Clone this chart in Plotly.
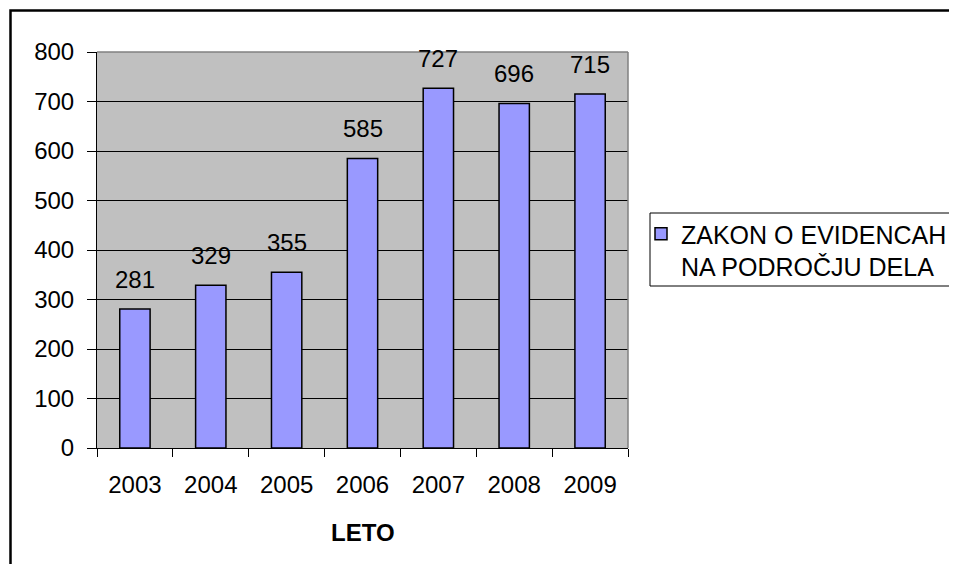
import plotly.graph_objects as go

years = ["2003", "2004", "2005", "2006", "2007", "2008", "2009"]
values = [281, 329, 355, 585, 727, 696, 715]
series_name = "ZAKON O EVIDENCAH<br>NA PODROČJU DELA"
y_ticks = [0, 100, 200, 300, 400, 500, 600, 700, 800]
x_title = "LETO"

OFF = 8  # browser body margin
W, H = 957 - OFF, 572 - 2 * OFF
L, T = 97 - OFF, 52 - OFF
R, B = W - (628 - OFF), H - (448 - OFF)
pw, ph = W - L - R, H - T - B

def px_x(p):
    return (p - OFF - L) / pw

def px_y(p):
    return (H - B - (p - OFF)) / ph

FONT = "Liberation Sans, Arial, sans-serif"

fig = go.Figure()
fig.add_trace(go.Bar(
    x=years, y=values, name=series_name,
    marker=dict(color="#9999FF", line=dict(color="black", width=1.5)),
    width=0.4, showlegend=True,
))

annotations = [
    dict(x=i, y=yv, text=str(yv), xref="x", yref="y", showarrow=False,
         yanchor="bottom", yshift=14, font=dict(family=FONT, size=24, color="black"))
    for i, yv in enumerate(values)
]
annotations.append(dict(x=0.5, y=px_y(532), xref="paper", yref="paper",
                        text="<b>" + x_title + "</b>", showarrow=False,
                        xanchor="center", yanchor="middle",
                        font=dict(family=FONT, size=24, color="black")))

shapes = [
    # outer chart border (right/bottom beyond view)
    dict(type="rect", xref="paper", yref="paper",
         x0=px_x(10.5), x1=px_x(990), y0=px_y(600), y1=px_y(10.5),
         line=dict(color="black", width=2.5), layer="above"),
    # plot area top and right gray border
    dict(type="line", xref="paper", yref="paper", x0=0, x1=1, y0=1, y1=1,
         line=dict(color="#808080", width=1.5), layer="above"),
    dict(type="line", xref="paper", yref="paper", x0=1, x1=1, y0=0, y1=1,
         line=dict(color="#808080", width=1.5), layer="above"),
    # legend box
    dict(type="rect", xref="paper", yref="paper",
         x0=px_x(650), x1=px_x(956), y0=px_y(286), y1=px_y(213),
         line=dict(color="black", width=1), fillcolor="white", layer="below"),
]

fig.update_layout(
    width=W, height=H,
    margin=dict(l=L, r=R, t=T, b=B, pad=0, autoexpand=False),
    paper_bgcolor="white", plot_bgcolor="#C0C0C0",
    font=dict(family=FONT, size=24, color="black"),
    bargap=0.6,
    xaxis=dict(type="category", range=[-0.5, 6.5], tickson="boundaries",
               ticks="outside", ticklen=8, tickwidth=1, tickcolor="black",
               showline=True, linecolor="black", linewidth=1,
               showgrid=False, tickfont=dict(size=24), ticklabelstandoff=15),
    yaxis=dict(range=[0, 800], tickvals=y_ticks, ticks="outside", ticklen=9,
               tickwidth=1, tickcolor="black", showline=True, linecolor="black",
               linewidth=1, showgrid=True, gridcolor="black", gridwidth=1,
               zeroline=False, tickfont=dict(size=24), ticklabelstandoff=8),
    legend=dict(x=px_x(641), y=px_y(211), xanchor="left", yanchor="top",
                borderwidth=0, bgcolor="rgba(0,0,0,0)",
                font=dict(family=FONT, size=25, color="black"), valign="top",
                itemwidth=30),
    annotations=annotations,
    shapes=shapes,
)

fig.write_html("out.html")
